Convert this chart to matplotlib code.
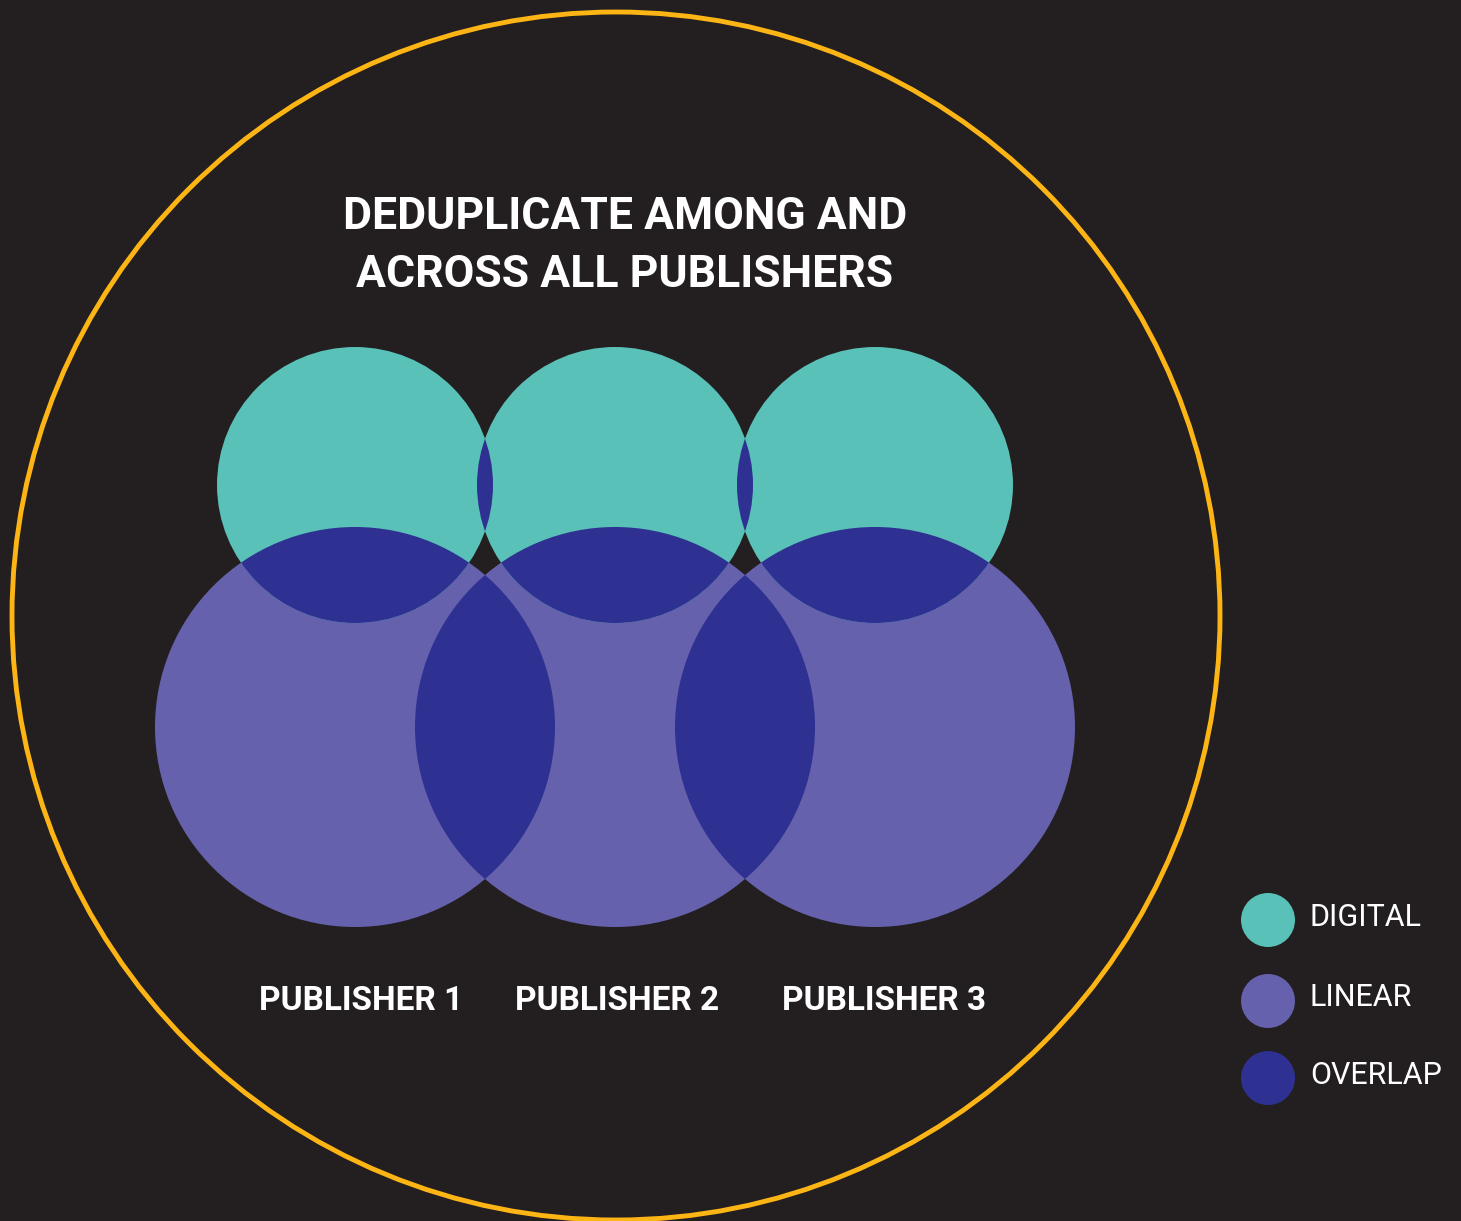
import matplotlib
matplotlib.use("Agg")
import matplotlib.pyplot as plt
from matplotlib.patches import Circle

# chart data (pixel layout of the diagram)
title_lines = ["DEDUPLICATE AMONG AND", "ACROSS ALL PUBLISHERS"]
publishers = ["PUBLISHER 1", "PUBLISHER 2", "PUBLISHER 3"]
pub_x = [355, 615, 875]
label_x = [361, 617, 884]
digital_y, digital_r = 485, 138
linear_y, linear_r = 727, 200
legend_labels = ["DIGITAL", "LINEAR", "OVERLAP"]
legend_y = [920, 1001, 1078]

BG = "#231F20"
DIGITAL = "#59C1B7"
LINEAR = "#6561AC"
OVERLAP = "#2E3192"
RING = "#FDB515"
legend_colors = [DIGITAL, LINEAR, OVERLAP]

plt.rcParams['font.family'] = ['Roboto', 'DejaVu Sans']

fig = plt.figure(figsize=(14.61, 12.21), dpi=100, facecolor=BG)
ax = fig.add_axes([0, 0, 1, 1])
ax.set_facecolor(BG)
ax.set_xlim(0, 1461)
ax.set_ylim(1221, 0)
ax.axis('off')

# outer ring
ax.add_patch(Circle((616, 616), 604, fill=False, ec=RING, lw=3.5))

# base circles
digital = [(x, digital_y, digital_r) for x in pub_x]
linear = [(x, linear_y, linear_r) for x in pub_x]
for x, y, r in linear:
    ax.add_patch(Circle((x, y), r, fc=LINEAR, ec='none'))
for x, y, r in digital:
    ax.add_patch(Circle((x, y), r, fc=DIGITAL, ec='none'))

# overlaps: circle a clipped by circle b
pairs = []
for i in range(3):
    pairs.append((digital[i], linear[i]))
for i in range(2):
    pairs.append((digital[i], digital[i + 1]))
    pairs.append((linear[i], linear[i + 1]))
for a, b in pairs:
    p = Circle((a[0], a[1]), a[2], fc=OVERLAP, ec='none', zorder=3)
    ax.add_patch(p)
    clip = Circle((b[0], b[1]), b[2], transform=ax.transData)
    p.set_clip_path(clip)

# title
ax.text(625, 217, title_lines[0], color='white', fontsize=32, fontweight='bold',
        ha='center', va='center')
ax.text(625, 275, title_lines[1], color='white', fontsize=32, fontweight='bold',
        ha='center', va='center')

# publisher labels
for lx, name in zip(label_x, publishers):
    ax.text(lx, 1001, name, color='white', fontsize=24, fontweight='bold',
            ha='center', va='center')

# legend
for ly, lab, c in zip(legend_y, legend_labels, legend_colors):
    ax.add_patch(Circle((1268, ly), 27, fc=c, ec='none'))
    ax.text(1310, ly - 3, lab, color='white', fontsize=22, ha='left', va='center')

fig.savefig("out.png", dpi=100, facecolor=BG)
